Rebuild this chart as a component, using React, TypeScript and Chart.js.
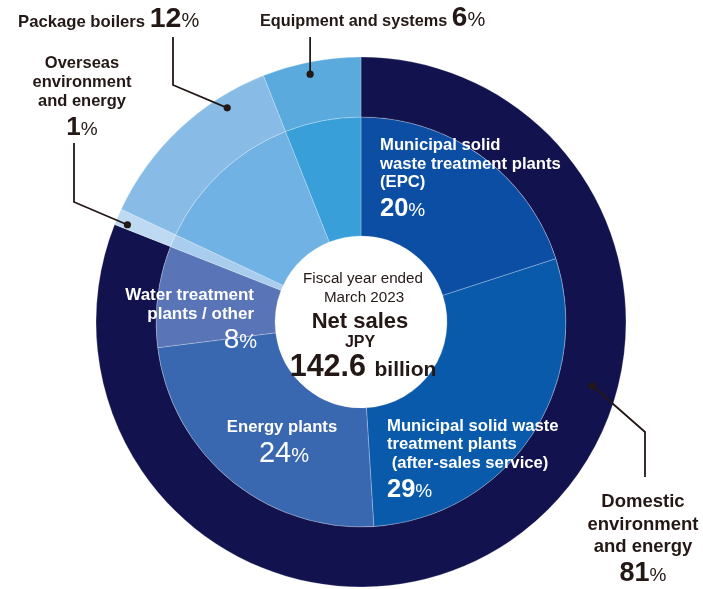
import React, { useEffect, useRef } from "react";
import { Chart, registerables } from "chart.js";

Chart.register(...registerables);

// ---- data ----
const outerLabels = [
  "Domestic environment and energy",
  "Overseas environment and energy",
  "Package boilers",
  "Equipment and systems",
];
const outerValues = [81, 1, 12, 6];
const outerColors = ["#12124f", "#bedaf2", "#88bce6", "#5aaade"];

const innerLabels = [
  "Municipal solid waste treatment plants (EPC)",
  "Municipal solid waste treatment plants (after-sales service)",
  "Energy plants",
  "Water treatment plants / other",
  "Overseas environment and energy",
  "Package boilers",
  "Equipment and systems",
];
const innerValues = [20, 29, 24, 8, 1, 12, 6];
const innerColors = ["#0b4ea4", "#0a5aab", "#3a68b0", "#5a74b8", "#a9cdee", "#70b2e4", "#389fd9"];

const centerLines = ["Fiscal year ended", "March 2023", "Net sales", "JPY", "142.6", "billion"];

const FONT = '"Liberation Sans", Arial, sans-serif';
const DARK = "#231815";

type Run = { t: string; f: string };

function drawRuns(ctx: CanvasRenderingContext2D, runs: Run[], x: number, y: number, align: "left" | "center" | "right", color: string) {
  ctx.textBaseline = "alphabetic";
  ctx.textAlign = "left";
  const widths = runs.map((r) => {
    ctx.font = r.f;
    return ctx.measureText(r.t).width;
  });
  const total = widths.reduce((a, b) => a + b, 0);
  let sx = align === "left" ? x : align === "center" ? x - total / 2 : x - total;
  ctx.fillStyle = color;
  runs.forEach((r, i) => {
    ctx.font = r.f;
    ctx.fillText(r.t, sx, y);
    sx += widths[i];
  });
}

const b = (s: number) => `bold ${s}px ${FONT}`;
const n = (s: number) => `${s}px ${FONT}`;

const annotationPlugin = {
  id: "annotations",
  afterDraw(chart: any) {
    const ctx: CanvasRenderingContext2D = chart.ctx;
    const arc: any = chart.getDatasetMeta(0).data[0];
    const cx = arc.x;
    const cy = arc.y;
    const pt = (deg: number, r: number) => {
      const th = -Math.PI / 2 + (deg * Math.PI) / 180;
      return [cx + r * Math.cos(th), cy + r * Math.sin(th)];
    };
    ctx.save();

    // leader lines
    ctx.strokeStyle = DARK;
    ctx.fillStyle = DARK;
    ctx.lineWidth = 1.8;
    const leader = (pts: number[][], dot: number[]) => {
      ctx.beginPath();
      ctx.moveTo(pts[0][0], pts[0][1]);
      for (let i = 1; i < pts.length; i++) ctx.lineTo(pts[i][0], pts[i][1]);
      ctx.lineTo(dot[0], dot[1]);
      ctx.stroke();
      ctx.beginPath();
      ctx.arc(dot[0], dot[1], 3.6, 0, Math.PI * 2);
      ctx.fill();
    };
    const dEq = pt(348.4, 253);
    leader([[dEq[0], 37]], dEq);
    const dPb = pt(328, 252.5);
    leader([[173, 37], [173, 85]], dPb);
    const dOv = pt(292.6, 253);
    leader([[74, 143], [74, 202]], dOv);
    const dDo = pt(105.4, 240);
    leader([[645, 477], [645, 432]], dDo);

    // outside labels
    drawRuns(ctx, [{ t: "Package boilers ", f: b(16.7) }, { t: String(outerValues[2]), f: b(28.5) }, { t: "%", f: n(20) }], 18, 27, "left", DARK);
    drawRuns(ctx, [{ t: "Equipment and systems ", f: b(16.3) }, { t: String(outerValues[3]), f: b(28) }, { t: "%", f: n(20) }], 260, 26, "left", DARK);

    drawRuns(ctx, [{ t: "Overseas", f: b(16.5) }], 82, 68, "center", DARK);
    drawRuns(ctx, [{ t: "environment", f: b(16.5) }], 82, 87, "center", DARK);
    drawRuns(ctx, [{ t: "and energy", f: b(16.5) }], 82, 106, "center", DARK);
    drawRuns(ctx, [{ t: String(outerValues[1]), f: b(26) }, { t: "%", f: n(19) }], 82, 135, "center", DARK);

    drawRuns(ctx, [{ t: "Domestic", f: b(18.5) }], 643, 507, "center", DARK);
    drawRuns(ctx, [{ t: "environment", f: b(18.5) }], 643, 530, "center", DARK);
    drawRuns(ctx, [{ t: "and energy", f: b(18.5) }], 643, 552, "center", DARK);
    drawRuns(ctx, [{ t: String(outerValues[0]), f: b(27) }, { t: "%", f: n(19) }], 643, 581, "center", DARK);

    // inner labels (white)
    const W = "#ffffff";
    const L = 16.7;
    drawRuns(ctx, [{ t: "Municipal solid", f: b(L) }], 380, 150, "left", W);
    drawRuns(ctx, [{ t: "waste treatment plants", f: b(L) }], 380, 169, "left", W);
    drawRuns(ctx, [{ t: "(EPC)", f: b(L) }], 380, 187, "left", W);
    drawRuns(ctx, [{ t: String(innerValues[0]), f: b(25.5) }, { t: "%", f: n(19) }], 380, 216, "left", W);

    drawRuns(ctx, [{ t: "Municipal solid waste", f: b(L) }], 387, 431, "left", W);
    drawRuns(ctx, [{ t: "treatment plants", f: b(L) }], 387, 449, "left", W);
    drawRuns(ctx, [{ t: " (after-sales service)", f: b(L) }], 387, 468, "left", W);
    drawRuns(ctx, [{ t: String(innerValues[1]), f: b(25.5) }, { t: "%", f: n(19) }], 387, 497, "left", W);

    drawRuns(ctx, [{ t: "Energy plants", f: b(L) }], 282, 432, "center", W);
    drawRuns(ctx, [{ t: String(innerValues[2]), f: n(29) }, { t: "%", f: n(20) }], 284, 462, "center", W);

    drawRuns(ctx, [{ t: "Water treatment", f: b(17) }], 254, 300, "right", W);
    drawRuns(ctx, [{ t: "plants / other", f: b(17) }], 254, 319, "right", W);
    drawRuns(ctx, [{ t: String(innerValues[3]), f: n(28) }, { t: "%", f: n(20) }], 257, 348, "right", W);

    // center text
    drawRuns(ctx, [{ t: centerLines[0], f: n(15.2) }], 363, 283, "center", DARK);
    drawRuns(ctx, [{ t: centerLines[1], f: n(15.2) }], 364, 302, "center", DARK);
    drawRuns(ctx, [{ t: centerLines[2], f: b(22) }], 360, 328, "center", DARK);
    drawRuns(ctx, [{ t: centerLines[3], f: b(16) }], 360, 347, "center", DARK);
    drawRuns(ctx, [{ t: centerLines[4] + " ", f: b(30.5) }, { t: centerLines[5], f: b(21) }], 363, 376, "center", DARK);

    ctx.restore();
  },
};

export default function App() {
  const ref = useRef<HTMLCanvasElement | null>(null);
  useEffect(() => {
    if (!ref.current) return;
    const chart = new Chart(ref.current, {
      type: "doughnut",
      data: {
        labels: innerLabels,
        datasets: [
          {
            label: "Outer",
            data: outerValues,
            backgroundColor: outerColors,
            borderWidth: 0.8,
            borderColor: "rgba(255,255,255,0.3)",
            weight: 60,
          } as any,
          {
            label: "Inner",
            data: innerValues,
            backgroundColor: innerColors,
            borderWidth: 0.8,
            borderColor: "rgba(255,255,255,0.3)",
            weight: 119,
          } as any,
        ],
      },
      options: {
        responsive: false,
        animation: false,
        radius: 265,
        cutout: "32.45%",
        events: [],
        layout: { padding: { left: 19, right: 0, top: 55, bottom: 0 } },
        plugins: {
          legend: { display: false },
          tooltip: { enabled: false },
        },
      } as any,
      plugins: [annotationPlugin],
    });
    return () => chart.destroy();
  }, []);
  return (
    <div style={{ position: "fixed", left: 0, top: 0, width: 703, height: 589, background: "#fff" }}>
      <canvas ref={ref} width={703} height={589} style={{ display: "block", width: 703, height: 589 }} />
    </div>
  );
}
